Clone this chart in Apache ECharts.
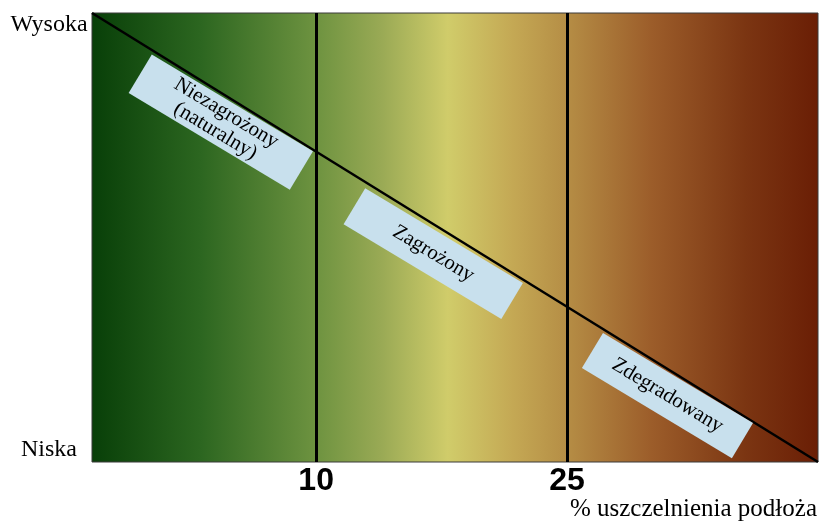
<!DOCTYPE html>
<html>
<head>
<meta charset="utf-8">
<script src="https://cdn.jsdelivr.net/npm/echarts@6/dist/echarts.min.js"></script>
<style>html,body{margin:0;padding:0;background:#fff}#c{width:819px;height:521px}</style>
</head>
<body>
<div id="c"></div>
<script>
// X axis range (% sealed surface)
const xRange = [-3.4, 40];
// Thresholds drawn as vertical lines, also the only tick labels
const thresholds = [10, 25];
// Y axis: stream quality 0 = Niska, 1 = Wysoka
const yTickNames = { 0: 'Niska', 1: 'Wysoka' };
// Diagonal quality line (x, quality)
const qualityLine = [[-3.4, 1], [40, 0]];
// Zone labels and their centres in data coordinates
const zoneNames = ['Niezagrożony\n(naturalny)', 'Zagrożony', 'Zdegradowany'];
const zoneX = [4.3, 17.0, 31.0];
const zoneY = [0.757, 0.464, 0.148];

const serif = '"Liberation Serif", "DejaVu Serif", serif';
const chart = echarts.init(document.getElementById('c'), null, { renderer: 'canvas' });

const boxSizes = [[188, 45], [184, 42], [175, 41]];

chart.setOption({
  animation: false,
  backgroundColor: '#ffffff',
  grid: {
    left: 92, right: 1, top: 13, bottom: 59,
    containLabel: false,
    outerBoundsMode: 'none',
    show: true,
    borderColor: '#3a3a3a',
    borderWidth: 1,
    backgroundColor: new echarts.graphic.LinearGradient(0, 0, 1, 0, [
      { offset: 0.00, color: '#083f08' },
      { offset: 0.15, color: '#2c6620' },
      { offset: 0.31, color: '#6e9340' },
      { offset: 0.40, color: '#9aaa55' },
      { offset: 0.49, color: '#d0cc6a' },
      { offset: 0.58, color: '#c4a854' },
      { offset: 0.65, color: '#b68f46' },
      { offset: 0.77, color: '#9c5d2a' },
      { offset: 0.90, color: '#7b3512' },
      { offset: 1.00, color: '#6a1e05' }
    ])
  },
  xAxis: {
    type: 'value',
    min: xRange[0],
    max: xRange[1],
    splitLine: { show: false },
    axisLine: { show: false },
    axisTick: { show: false },
    axisLabel: {
      customValues: thresholds,
      margin: 3,
      color: '#000',
      fontFamily: '"Liberation Sans", Arial, sans-serif',
      fontWeight: 'bold',
      fontSize: 32
    },
    name: '% uszczelnienia podłoża',
    nameLocation: 'end',
    nameGap: -1,
    nameTextStyle: {
      color: '#000',
      fontFamily: serif,
      fontSize: 25,
      align: 'right',
      verticalAlign: 'top',
      padding: [35, 0, 0, 0]
    }
  },
  yAxis: {
    type: 'value',
    min: 0,
    max: 1,
    interval: 1,
    splitLine: { show: false },
    axisLine: { show: false },
    axisTick: { show: false },
    axisLabel: {
      formatter: v => yTickNames[v] || '',
      align: 'center',
      margin: 43,
      color: '#000',
      fontFamily: serif,
      fontSize: 24,
      verticalAlignMaxLabel: 'top',
      verticalAlignMinLabel: 'bottom'
    },
    name: 'Jakość cieku',
    nameLocation: 'middle',
    nameRotate: 90,
    nameGap: 71,
    nameTextStyle: {
      color: '#000',
      fontFamily: serif,
      fontSize: 22,
      padding: [0, 0, 0, 68]
    }
  },
  series: [
    {
      type: 'line',
      data: qualityLine,
      symbol: 'none',
      lineStyle: { color: '#000', width: 2.5 },
      silent: true,
      z: 3,
      markLine: {
        silent: true,
        symbol: 'none',
        label: { show: false },
        lineStyle: { color: '#000', width: 3, type: 'solid' },
        data: thresholds.map(t => ({ xAxis: t }))
      }
    },
    {
      type: 'scatter',
      silent: true,
      z: 4,
      data: zoneNames.map((n, i) => ({
        value: [zoneX[i], zoneY[i]],
        name: n,
        symbolSize: boxSizes[i]
      })),
      symbol: 'rect',
      symbolRotate: -31,
      itemStyle: { color: '#c8e0ed', opacity: 1 },
      label: {
        show: true,
        position: 'inside',
        rotate: -31,
        formatter: p => p.name,
        color: '#000',
        fontFamily: serif,
        fontSize: 21,
        lineHeight: 21
      }
    }
  ]
});
</script>
</body>
</html>
